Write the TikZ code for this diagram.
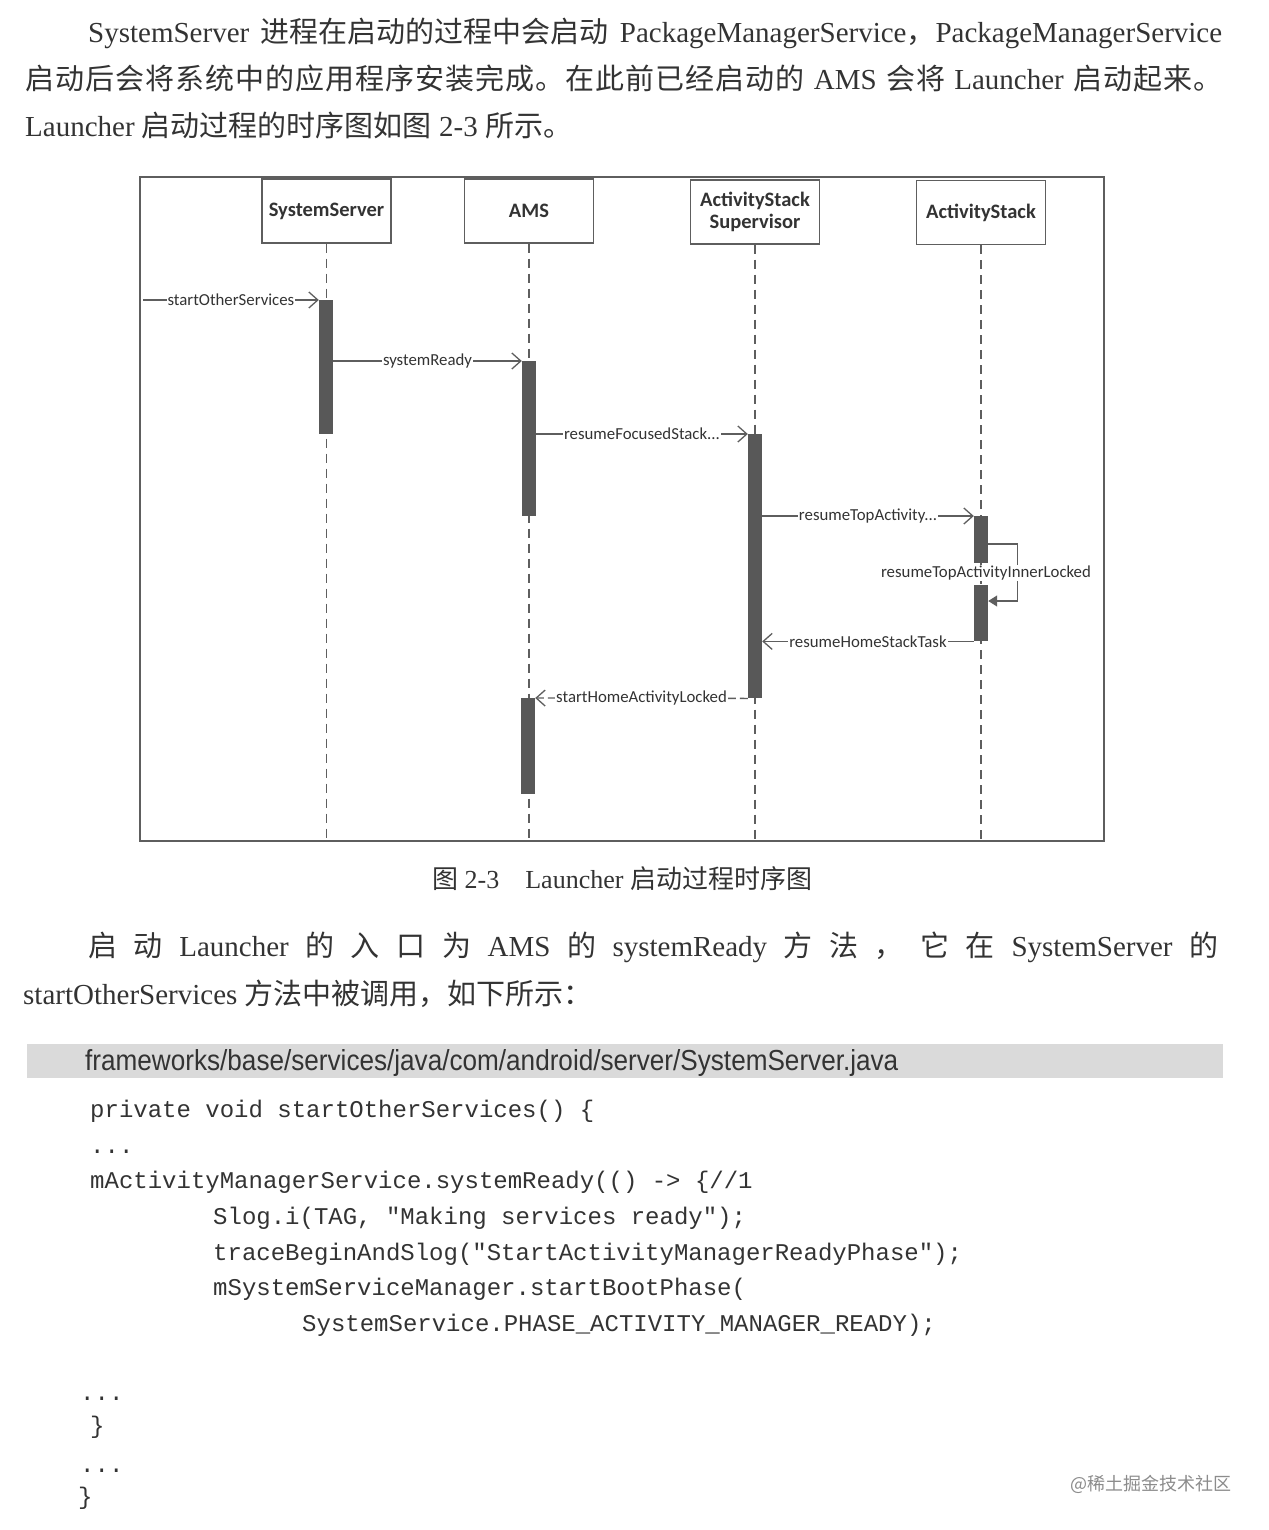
\documentclass[tikz,border=0pt]{standalone}
\usepackage{fontspec}
\usepackage{graphicx}
\setmainfont{Liberation Serif}
\newfontfamily\cjk{Noto Sans CJK SC}
\newfontfamily\cjkwide[LetterSpace=3.5]{Noto Sans CJK SC}
\newfontfamily\diag{Carlito}
\newfontfamily\pathfont{Liberation Sans}
\newfontfamily\codefont{Liberation Mono}
\usetikzlibrary{arrows.meta,calc}
\newcommand\zh[1]{{\cjk #1}}
\newcommand\zhw[1]{{\cjkwide #1}}
\definecolor{ink}{HTML}{333333}
\definecolor{lineg}{HTML}{5E5E5E}
\definecolor{barg}{HTML}{585858}
\definecolor{pathbg}{HTML}{DADADA}
\begin{document}
\begin{tikzpicture}[x=1pt,y=-1pt,
  body/.style={anchor=base west,inner sep=0pt,text=ink,font=\fontsize{29}{35}\selectfont},
  captext/.style={anchor=base west,inner sep=0pt,text=ink,font=\fontsize{26}{30}\selectfont},
  code/.style={anchor=base west,inner sep=0pt,text=ink,font=\codefont\fontsize{24}{28}\selectfont},
  lifebox/.style={draw=lineg,line width=1.4pt,fill=white,minimum width=129pt,minimum height=64pt,inner sep=0pt,align=center,text=ink,font=\diag\bfseries\fontsize{20.5}{24}\selectfont},
  life/.style={draw=lineg,line width=1.4pt,dash pattern=on 9pt off 6pt},
  actbar/.style={fill=barg,draw=none,minimum width=14pt,inner sep=0pt,anchor=north},
  msg/.style={draw=lineg,line width=1.3pt,-{Straight Barb[length=9pt,width=16pt,line width=1.3pt]}},
  ret/.style={msg,dash pattern=on 8pt off 4pt},
  selfmsg/.style={draw=lineg,line width=1.3pt,-{Triangle[length=9pt,width=11pt]}},
  lbl/.style={fill=white,inner sep=1pt,text=ink,font=\diag\fontsize{16.8}{19}\selectfont}
]
\useasboundingbox[fill=white] (0,0) rectangle (1268,1530);

% ---------- top paragraph ----------
\node[body] (p1) at (88,43) {\makebox[1134pt][s]{SystemServer \zh{进程在启动的过程中会启动} PackageManagerService\zh{，}PackageManagerService}};
\node[body] (p2) at (25,90) {\makebox[1197pt][s]{\zhw{启动后会将系统中的应用程序安装完成。在此前已经启动的} AMS \zhw{会将} Launcher \zhw{启动起来。}}};
\node[body] (p3) at (25,137) {Launcher \zh{启动过程的时序图如图} 2-3 \zh{所示。}};

% ---------- diagram frame ----------
\draw[draw=lineg,line width=1.8pt] (140,177) rectangle (1104,841);
\coordinate (bot) at (0,840);
\coordinate (fl) at (143,300);

\node[lifebox] (ss)  at (326.5,211) {SystemServer};
\node[lifebox] (ams) at (529,211) {AMS};
\node[lifebox] (ass) at (755,212) {ActivityStack\\[-2pt]Supervisor};
\node[lifebox] (as)  at (981,212.5) {ActivityStack};

\draw[life] (ss.south) -- (ss.south |- bot);
\draw[life] (ams.south) -- (ams.south |- bot);
\draw[life] (ass.south) -- (ass.south |- bot);
\draw[life] (as.south) -- (as.south |- bot);

\node[actbar,minimum height=134pt] (b1) at (326,300) {};
\node[actbar,minimum height=155pt] (b2) at (529,361) {};
\node[actbar,minimum height=264pt] (b3) at (755,434) {};
\node[actbar,minimum height=47pt]  (b4) at (981,516) {};
\node[actbar,minimum height=56pt]  (b5) at (981,585) {};
\node[actbar,minimum height=96pt]  (b6) at (528,698) {};

\draw[msg] (fl) -- node[lbl] (l1) {startOtherServices} (b1.north west);
\draw[msg] (b1.east |- b2.north) -- node[lbl] (l2) {systemReady} (b2.north west);
\draw[msg] (b2.east |- b3.north) -- node[lbl] (l3) {resumeFocusedStack...} (b3.north west);
\draw[msg] (b3.east |- b4.north) -- node[lbl] (l4) {resumeTopActivity...} (b4.north west);
\draw[selfmsg] ($(b4.north east)+(0,28)$) -- ++(29,0) |- ($(b5.north east)+(0,16)$);
\node[lbl] (l5) at (986,573) {resumeTopActivityInnerLocked};
\draw[msg] (b5.south west) -- node[lbl] (l6) {resumeHomeStackTask} (b3.east |- b5.south);
\draw[ret] (b3.south west) -- node[lbl] (l7) {startHomeActivityLocked} (b6.north east);

% ---------- caption ----------
\node[captext] (caption) at (432,888) {\zh{图} 2-3\hspace{26pt}Launcher \zh{启动过程时序图}};

% ---------- second paragraph ----------
\node[body] (q1) at (88,956) {\makebox[1130pt][s]{\zh{启} \zh{动} Launcher \zh{的} \zh{入} \zh{口} \zh{为} AMS \zh{的} systemReady \zh{方} \zh{法} \zh{，} \zh{它} \zh{在} SystemServer \zh{的}}};
\node[body] (q2) at (23,1004) {startOtherServices \zh{方法中被调用，如下所示：}};

% ---------- path bar ----------
\node[fill=pathbg,minimum width=1196pt,minimum height=34pt,inner sep=0pt,anchor=north west] (pathbar) at (27,1044) {};
\node[anchor=base west,inner sep=0pt,text=ink] (pathtext) at (85,1070) {\resizebox{813pt}{21pt}{\pathfont frameworks/base/services/java/com/android/server/SystemServer.java}};

% ---------- code ----------
\node[code] (c1) at (90,1117) {private void startOtherServices() \{};
\node[code] (c2) at (90,1153) {...};
\node[code] (c3) at (90,1188) {mActivityManagerService.systemReady(() -> \{//1};
\node[code] (c4) at (213,1224) {Slog.i(TAG, "Making services ready");};
\node[code] (c5) at (213,1260) {traceBeginAndSlog("StartActivityManagerReadyPhase");};
\node[code] (c6) at (213,1295) {mSystemServiceManager.startBootPhase(};
\node[code] (c7) at (302,1331) {SystemService.PHASE\_ACTIVITY\_MANAGER\_READY);};
\node[code] (c8) at (80,1400) {...};
\node[code] (c9) at (90,1433) {\}};
\node[code] (c10) at (80,1472) {...};
\node[code] (c11) at (78,1504) {\}};

% ---------- watermark ----------
\node[anchor=base west,inner sep=0pt,text=black!45,font=\cjk\fontsize{18}{22}\selectfont] (wm) at (1070,1490) {@稀土掘金技术社区};
\end{tikzpicture}
\end{document}
